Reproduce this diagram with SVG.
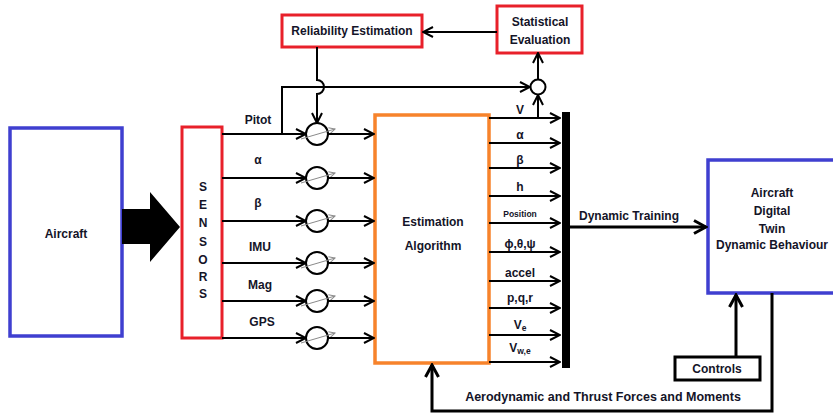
<svg xmlns="http://www.w3.org/2000/svg" width="833" height="415" viewBox="0 0 833 415">
  <style>
    text { font-family: "Liberation Sans", Arial, sans-serif; font-weight: bold; fill: #141428; font-size: 12px; text-anchor: middle; }
    .red { fill: #fff; stroke: #e8202a; stroke-width: 3; }
    .blue { fill: #fff; stroke: #3f3fd0; stroke-width: 3.5; }
    .orange { fill: #fff; stroke: #f7832b; stroke-width: 3.5; }
    .ln { fill: none; stroke: #000; stroke-width: 2; }
    .thick { fill: none; stroke: #000; stroke-width: 3; }
    .sum { fill: #fff; stroke: #000; stroke-width: 2; }
    .gray { fill: none; stroke: #8a8a8a; stroke-width: 1; }
  </style>
  <defs>
    <marker id="ah" viewBox="0 0 12 12" refX="11" refY="6" markerWidth="12" markerHeight="12" markerUnits="userSpaceOnUse" orient="auto">
      <path d="M1,1 L11,6 L1,11" fill="none" stroke="#000" stroke-width="2"/>
    </marker>
    <marker id="ahb" viewBox="0 0 16 16" refX="14" refY="8" markerWidth="16" markerHeight="16" markerUnits="userSpaceOnUse" orient="auto">
      <path d="M2,1.5 L14,8 L2,14.5" fill="none" stroke="#000" stroke-width="3"/>
    </marker>
    <marker id="ahg" viewBox="0 0 8 8" refX="7" refY="4" markerWidth="8" markerHeight="8" markerUnits="userSpaceOnUse" orient="auto">
      <path d="M1,1 L7,4 L1,7" fill="none" stroke="#8a8a8a" stroke-width="1"/>
    </marker>
    <!-- summing junction with a gray gain arrow across it -->
    <g id="junction">
      <circle cx="0" cy="0" r="11" class="sum"/>
      <line x1="-16" y1="5" x2="18" y2="-5" class="gray" marker-end="url(#ahg)"/>
    </g>
  </defs>

  <rect width="833" height="415" fill="#fff"/>

  <g id="aircraft">
    <rect x="10" y="128" width="112" height="208" class="blue"/>
    <text x="66" y="238">Aircraft</text>
  </g>

  <g id="sensors">
    <rect x="182" y="127" width="40" height="211" class="red"/>
    <text x="203" y="191">S</text>
    <text x="203" y="209">E</text>
    <text x="203" y="227">N</text>
    <text x="203" y="246">S</text>
    <text x="203" y="264">O</text>
    <text x="203" y="281">R</text>
    <text x="203" y="298">S</text>
  </g>

  <g id="estimation">
    <rect x="375" y="115" width="114" height="248" class="orange"/>
    <text x="433" y="226">Estimation</text>
    <text x="433" y="250">Algorithm</text>
  </g>

  <g id="reliability">
    <rect x="282" y="15" width="140" height="32" class="red"/>
    <text x="352" y="35">Reliability Estimation</text>
  </g>

  <g id="statistical">
    <rect x="497" y="6" width="85" height="47" class="red"/>
    <text x="540" y="26">Statistical</text>
    <text x="540" y="44">Evaluation</text>
  </g>

  <g id="digital-twin">
    <rect x="708" y="160" width="130" height="133" class="blue"/>
    <text x="772" y="197">Aircraft</text>
    <text x="772" y="215">Digital</text>
    <text x="772" y="233">Twin</text>
    <text x="772" y="249">Dynamic Behaviour</text>
  </g>

  <g id="controls">
    <rect x="675" y="357" width="85" height="23" fill="#fff" stroke="#000" stroke-width="3"/>
    <text x="717" y="373">Controls</text>
  </g>

  <g id="bus">
    <rect x="562" y="112" width="8" height="256" fill="#000"/>
  </g>

  <g id="junctions">
    <use href="#junction" x="317" y="134"/>
    <use href="#junction" x="317" y="178"/>
    <use href="#junction" x="317" y="221"/>
    <use href="#junction" x="317" y="263"/>
    <use href="#junction" x="317" y="301"/>
    <use href="#junction" x="317" y="338"/>
    <circle cx="538" cy="87" r="7.5" class="sum"/>
  </g>

  <g id="connectors">
    <!-- aircraft to sensors -->
    <polygon points="122,209 150,209 150,192 180,227 150,262 150,244 122,244" fill="#000"/>

    <!-- sensor channels into the junctions -->
    <line x1="222" y1="134" x2="306" y2="134" class="ln" marker-end="url(#ah)"/>
    <line x1="222" y1="178" x2="306" y2="178" class="ln" marker-end="url(#ah)"/>
    <line x1="222" y1="221" x2="306" y2="221" class="ln" marker-end="url(#ah)"/>
    <line x1="222" y1="263" x2="306" y2="263" class="ln" marker-end="url(#ah)"/>
    <line x1="222" y1="301" x2="306" y2="301" class="ln" marker-end="url(#ah)"/>
    <line x1="222" y1="338" x2="306" y2="338" class="ln" marker-end="url(#ah)"/>

    <!-- junctions into the estimator -->
    <line x1="328" y1="134" x2="374" y2="134" class="ln" marker-end="url(#ah)"/>
    <line x1="328" y1="178" x2="374" y2="178" class="ln" marker-end="url(#ah)"/>
    <line x1="328" y1="221" x2="374" y2="221" class="ln" marker-end="url(#ah)"/>
    <line x1="328" y1="263" x2="374" y2="263" class="ln" marker-end="url(#ah)"/>
    <line x1="328" y1="301" x2="374" y2="301" class="ln" marker-end="url(#ah)"/>
    <line x1="328" y1="338" x2="374" y2="338" class="ln" marker-end="url(#ah)"/>

    <!-- pitot branch to the comparison junction -->
    <polyline points="282,134 282,87 530,87" class="ln" marker-end="url(#ah)"/>
    <!-- estimated V to the comparison junction -->
    <line x1="538" y1="118" x2="538" y2="95" class="ln" marker-end="url(#ah)"/>
    <line x1="538" y1="79" x2="538" y2="53" class="ln" marker-end="url(#ah)"/>
    <!-- statistical evaluation to reliability estimation -->
    <line x1="497" y1="32" x2="423" y2="32" class="ln" marker-end="url(#ah)"/>
    <!-- reliability feedback, hopping over the pitot branch -->
    <path d="M317,47 V80 A7,7 0 0 1 317,94 V123" class="ln" marker-end="url(#ah)"/>

    <!-- estimator outputs to the bus -->
    <line x1="489" y1="118" x2="560" y2="118" class="ln" marker-end="url(#ah)"/>
    <line x1="489" y1="143" x2="560" y2="143" class="ln" marker-end="url(#ah)"/>
    <line x1="489" y1="168" x2="560" y2="168" class="ln" marker-end="url(#ah)"/>
    <line x1="489" y1="196" x2="560" y2="196" class="ln" marker-end="url(#ah)"/>
    <line x1="489" y1="223" x2="560" y2="223" class="ln" marker-end="url(#ah)"/>
    <line x1="489" y1="252" x2="560" y2="252" class="ln" marker-end="url(#ah)"/>
    <line x1="489" y1="281" x2="560" y2="281" class="ln" marker-end="url(#ah)"/>
    <line x1="489" y1="308" x2="560" y2="308" class="ln" marker-end="url(#ah)"/>
    <line x1="489" y1="335" x2="560" y2="335" class="ln" marker-end="url(#ah)"/>
    <line x1="489" y1="362" x2="560" y2="362" class="ln" marker-end="url(#ah)"/>

    <!-- bus to digital twin -->
    <line x1="570" y1="227" x2="706" y2="227" class="thick" marker-end="url(#ahb)"/>
    <!-- controls to digital twin -->
    <line x1="736" y1="356" x2="736" y2="295" class="thick" marker-end="url(#ahb)"/>
    <!-- forces and moments fed back to the estimator -->
    <polyline points="772,293 772,411 432,411 432,365" class="thick" marker-end="url(#ahb)"/>
  </g>

  <g id="labels">
    <text x="258" y="124">Pitot</text>
    <text x="258" y="164">α</text>
    <text x="258" y="207">β</text>
    <text x="260" y="251">IMU</text>
    <text x="260" y="289">Mag</text>
    <text x="262" y="326">GPS</text>

    <text x="520" y="114">V</text>
    <text x="520" y="139">α</text>
    <text x="520" y="164">β</text>
    <text x="520" y="191">h</text>
    <text x="520" y="217" style="font-size:8.5px">Position</text>
    <text x="520" y="248">ϕ,θ,ψ</text>
    <text x="520" y="277">accel</text>
    <text x="520" y="302">p,q,r</text>
    <text x="520" y="329">V<tspan style="font-size:8.5px" dy="2">e</tspan></text>
    <text x="520" y="352">V<tspan style="font-size:8.5px" dy="2">w,e</tspan></text>

    <text x="629" y="220">Dynamic Training</text>
    <text x="603" y="401" style="font-size:12.5px">Aerodynamic and Thrust Forces and Moments</text>
  </g>
</svg>
